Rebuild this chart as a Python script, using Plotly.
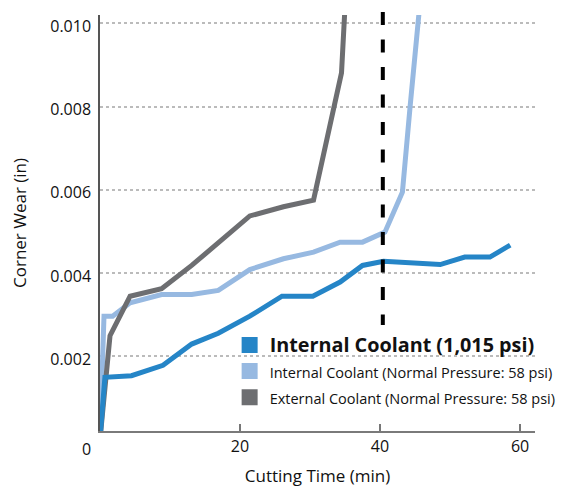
import plotly.graph_objects as go

# ---- data ----
hp_time = [0, 0.7, 4.5, 9.0, 13.1, 16.9, 21.4, 26.0, 30.4, 34.3, 37.5, 40.5, 48.6, 52.1, 55.7, 58.6]
hp_wear = [0, 0.00149, 0.00153, 0.00178, 0.00229, 0.00255, 0.00296, 0.00344, 0.00344, 0.00378,
           0.00418, 0.00428, 0.00420, 0.00438, 0.00438, 0.00467]

int_time = [0, 0.57, 1.8, 4.3, 8.8, 13.1, 16.9, 21.4, 26.2, 30.5, 34.3, 37.5, 40.7, 43.2, 44.3, 45.6]
int_wear = [0, 0.00296, 0.00296, 0.00328, 0.00348, 0.00348, 0.00358, 0.00408, 0.00434, 0.00450,
            0.00474, 0.00474, 0.00498, 0.00594, 0.00800, 0.01030]

ext_time = [0, 1.43, 4.3, 8.8, 13.1, 16.9, 21.4, 26.2, 30.5, 34.5, 35.0]
ext_wear = [0, 0.00249, 0.00344, 0.00362, 0.00418, 0.00474, 0.00537, 0.00559, 0.00575, 0.00881, 0.01040]

names = ["Internal Coolant (1,015 psi)",
         "Internal Coolant (Normal Pressure: 58 psi)",
         "External Coolant (Normal Pressure: 58 psi)"]
colors = ["#2585C7", "#97B9E1", "#6D6E71"]

threshold_time = 40.4
y_ticks = [0.002, 0.004, 0.006, 0.008, 0.010]
y_tick_text = ["0.002", "0.004", "0.006", "0.008", "0.010"]
x_ticks = [20, 40, 60]

FONT = "Open Sans, Noto Sans, sans-serif"

fig = go.Figure()

# lines (draw order: light blue, grey, dark blue on top)
fig.add_trace(go.Scatter(x=int_time, y=int_wear, mode="lines", showlegend=False,
                         line=dict(color=colors[1], width=5), hoverinfo="skip"))
fig.add_trace(go.Scatter(x=ext_time, y=ext_wear, mode="lines", showlegend=False,
                         line=dict(color=colors[2], width=5), hoverinfo="skip"))
fig.add_trace(go.Scatter(x=hp_time, y=hp_wear, mode="lines", showlegend=False,
                         line=dict(color=colors[0], width=5), hoverinfo="skip"))

# legend entries with square swatches
legend_labels = [
    '<span style="font-weight:bold;font-size:19.8px">' + names[0] + '</span>',
    '<span style="font-size:14.5px">' + names[1] + '</span>',
    '<span style="font-size:14.5px">' + names[2] + '</span>',
]
for i in range(3):
    fig.add_trace(go.Scatter(x=[None], y=[None], mode="markers", name=legend_labels[i],
                             legendgroup="g%d" % i,
                             marker=dict(symbol="square", size=16, color=colors[i])))

# dashed threshold line (drawn from the top down so the dash pattern starts at the top)
fig.add_shape(type="line", xref="x", yref="paper", x0=threshold_time, x1=threshold_time,
              y0=1.0072, y1=0.2548, line=dict(color="black", width=4, dash="13px,14.5px"),
              layer="above")

fig.add_annotation(text="0", xref="paper", yref="paper", x=-0.03, y=-0.043,
                   xanchor="center", yanchor="middle",
                   showarrow=False, font=dict(family=FONT, size=16, color="#111"))

fig.update_layout(
    width=570, height=479,
    margin=dict(l=92, r=43, t=7, b=56, autoexpand=False),
    paper_bgcolor="white", plot_bgcolor="white",
    font=dict(family=FONT, size=16, color="#111"),
    showlegend=True,
    legend=dict(x=0.298, y=0.249, xanchor="left", yanchor="top",
                bgcolor="rgba(0,0,0,0)", borderwidth=0,
                font=dict(family=FONT, size=17, color="#111"),
                tracegroupgap=1, itemclick=False),
    xaxis=dict(range=[0, 62.14], tickvals=x_ticks, ticks="inside", ticklen=7,
               tickwidth=1.5, tickcolor="#777", showline=True, linecolor="#7a7a7a",
               linewidth=2, showgrid=False, zeroline=False,
               tickfont=dict(family=FONT, size=16, color="#111"),
               title=dict(text="Cutting Time (min)", font=dict(family=FONT, size=17, color="#111"),
                          standoff=14)),
    yaxis=dict(range=[0.0002, 0.0102], tickvals=y_ticks, ticktext=y_tick_text, ticks="",
               showline=True, linecolor="#555", linewidth=1.5, showgrid=True,
               gridcolor="#BBBBBB", griddash="dot", gridwidth=1.5, zeroline=False,
               ticklabelstandoff=4, ticklabelshift=3,
               tickfont=dict(family=FONT, size=16, color="#111"),
               title=dict(text="Corner Wear (in)", font=dict(family=FONT, size=17, color="#111"),
                          standoff=28)),
)

fig.write_html("out.html")
